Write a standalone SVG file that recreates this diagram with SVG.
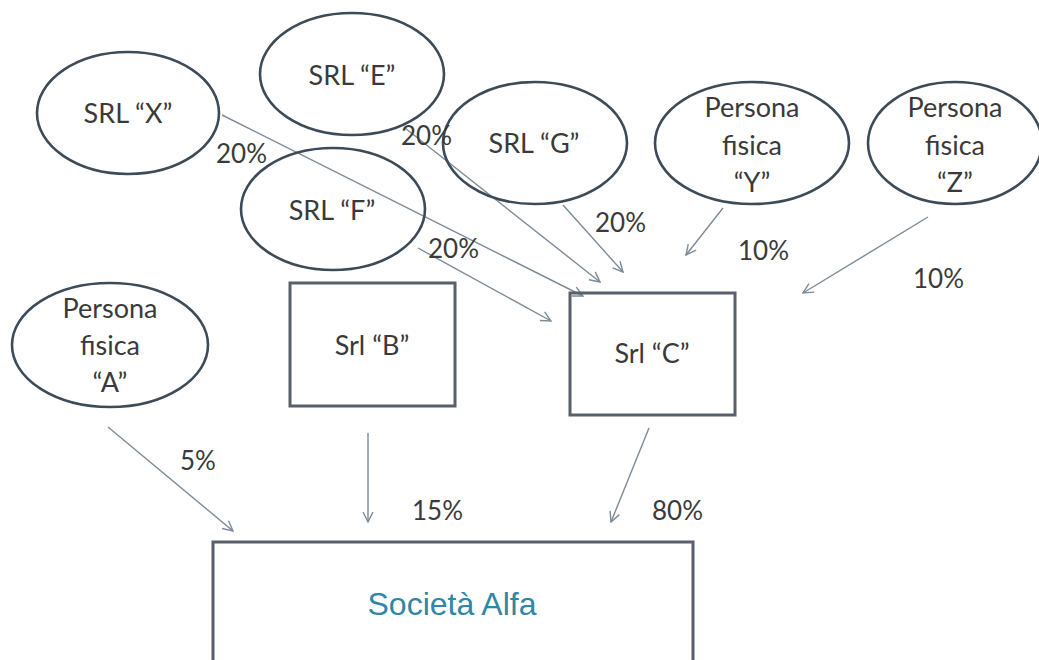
<svg xmlns="http://www.w3.org/2000/svg" width="1039" height="660" viewBox="0 0 1039 660">
<defs>
<style>
.ell{fill:none;stroke:#3d4b58;stroke-width:2.6}
.box{fill:none;stroke:#58616b;stroke-width:3}
.lbl{font-family:Lato,"Open Sans",sans-serif;font-size:27px;fill:#3a3a3a;text-anchor:middle}
.pct{font-family:Lato,"Open Sans",sans-serif;font-size:26px;fill:#3a3a3a}
.edge{stroke:#7d8b98;stroke-width:1.4;fill:none;marker-end:url(#ah)}
.alfa{font-family:"Liberation Sans",Arial,sans-serif;font-size:32px;fill:#2f86a6;text-anchor:middle}
</style>
<marker id="ah" viewBox="0 0 12 12" refX="11" refY="6" markerWidth="12" markerHeight="12" markerUnits="userSpaceOnUse" orient="auto">
<path d="M1,1 L11,6 L1,11" fill="none" stroke="#7d8b98" stroke-width="1.4"/>
</marker>
</defs>
<rect width="1039" height="660" fill="#ffffff"/>

<g id="connectors">
<line class="edge" x1="222" y1="115" x2="583" y2="296"/>
<line class="edge" x1="405" y1="128" x2="600" y2="282"/>
<line class="edge" x1="563" y1="205" x2="623" y2="272"/>
<line class="edge" x1="418" y1="248" x2="551" y2="321"/>
<line class="edge" x1="723" y1="208" x2="686" y2="255"/>
<line class="edge" x1="928" y1="217" x2="803" y2="293"/>
<line class="edge" x1="108" y1="427" x2="233" y2="531"/>
<line class="edge" x1="368" y1="433" x2="368" y2="522"/>
<line class="edge" x1="649" y1="428" x2="611" y2="522"/>
</g>

<g id="node-X"><ellipse class="ell" cx="128" cy="113" rx="91" ry="61"/><text class="lbl" x="128" y="123">SRL “X”</text></g>
<g id="node-E"><ellipse class="ell" cx="352" cy="74" rx="92" ry="61"/><text class="lbl" x="352" y="85">SRL “E”</text></g>
<g id="node-F"><ellipse class="ell" cx="333" cy="209" rx="92" ry="61"/><text class="lbl" x="332" y="220">SRL “F”</text></g>
<g id="node-G"><ellipse class="ell" cx="535" cy="143" rx="92" ry="61"/><text class="lbl" x="534" y="153">SRL “G”</text></g>
<g id="node-Y"><ellipse class="ell" cx="752" cy="143" rx="97" ry="61"/>
<text class="lbl" x="752" y="117">Persona</text><text class="lbl" x="752" y="155">fisica</text><text class="lbl" x="752" y="192">“Y”</text></g>
<g id="node-Z"><ellipse class="ell" cx="955" cy="143" rx="87" ry="61"/>
<text class="lbl" x="955" y="117">Persona</text><text class="lbl" x="955" y="155">fisica</text><text class="lbl" x="955" y="192">“Z”</text></g>
<g id="node-A"><ellipse class="ell" cx="110" cy="345" rx="98" ry="62"/>
<text class="lbl" x="110" y="318">Persona</text><text class="lbl" x="110" y="355">fisica</text><text class="lbl" x="110" y="392">“A”</text></g>
<g id="node-B"><rect class="box" x="290" y="283" width="165" height="123"/><text class="lbl" x="372" y="355">Srl “B”</text></g>
<g id="node-C"><rect class="box" x="570" y="293" width="165" height="122"/><text class="lbl" x="652" y="363">Srl “C”</text></g>
<g id="node-Alfa"><rect class="box" x="213" y="542" width="480" height="130"/><text class="alfa" x="452" y="615">Società Alfa</text></g>

<g id="labels">
<text class="pct" x="216" y="163">20%</text>
<text class="pct" x="401" y="145">20%</text>
<text class="pct" x="428" y="258">20%</text>
<text class="pct" x="595" y="232">20%</text>
<text class="pct" x="738" y="260">10%</text>
<text class="pct" x="913" y="288">10%</text>
<text class="pct" x="180" y="470">5%</text>
<text class="pct" x="412" y="520">15%</text>
<text class="pct" x="652" y="520">80%</text>
</g>
</svg>
